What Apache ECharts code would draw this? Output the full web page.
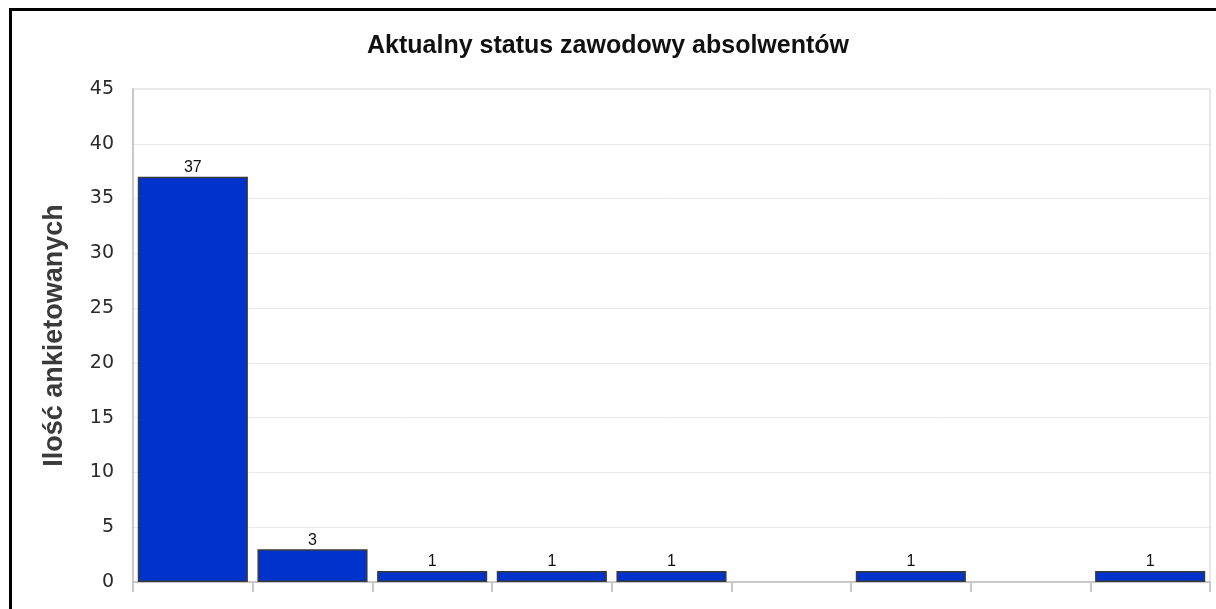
<!DOCTYPE html>
<html><head><meta charset="utf-8">
<script src="https://cdn.jsdelivr.net/npm/echarts@6/dist/echarts.min.js"></script>
<style>
html,body{margin:0;padding:0;background:#fff;overflow:hidden}
#frame{position:absolute;left:9px;top:8px;width:1230px;height:640px;border:3px solid #000;box-sizing:border-box}
#c{position:absolute;left:0;top:0;width:1216px;height:609px}
</style></head>
<body>
<div id="frame"></div>
<div id="c"></div>
<script>
const titleText = 'Aktualny status zawodowy absolwentów';
const yAxisName = 'Ilość ankietowanych';
const categories = ['1','2','3','4','5','6','7','8','9'];
const values = [37, 3, 1, 1, 1, 0, 1, 0, 1];
const yMin = 0, yMax = 45, yStep = 5;

const chart = echarts.init(document.getElementById('c'), null, {renderer:'canvas'});
chart.setOption({
  animation:false,
  backgroundColor:'transparent',
  title:{text:titleText,left:'center',top:29,textStyle:{fontFamily:'Liberation Sans',fontWeight:'bold',fontSize:25,color:'#111'}},
  grid:{left:133,top:89,right:6,bottom:27,show:true,borderColor:'#d0d0d0',borderWidth:1,backgroundColor:'#fff'},
  xAxis:{type:'category',data:categories,boundaryGap:true,
    axisLine:{lineStyle:{color:'#c8c8c8',width:2}},
    axisTick:{show:true,length:10,lineStyle:{color:'#c8c8c8',width:2}},
    axisLabel:{show:false}},
  yAxis:{type:'value',min:yMin,max:yMax,interval:yStep,
    name:yAxisName,nameLocation:'middle',nameGap:65,
    nameTextStyle:{fontFamily:'Liberation Sans',fontWeight:'bold',fontSize:27,color:'#3a3a3a'},
    axisLine:{show:true,lineStyle:{color:'#c8c8c8',width:2}},
    axisTick:{show:false},
    axisLabel:{fontFamily:'DejaVu Sans',fontSize:19,color:'#2a2a2a',margin:19},
    splitLine:{lineStyle:{color:'#e8e8e8',width:1}}},
  series:[{type:'bar',
    data:values.map(v => v === 0 ? {value:v,itemStyle:{borderWidth:0}} : v),
    barCategoryGap:'8%',
    itemStyle:{color:'#0033cc',borderColor:'#3a3a3a',borderWidth:1.5},
    label:{show:true,position:'top',distance:1,fontFamily:'Liberation Sans',fontSize:16,color:'#111',
      formatter:p=>p.value>0?p.value:''}}]
});
</script>
</body></html>
